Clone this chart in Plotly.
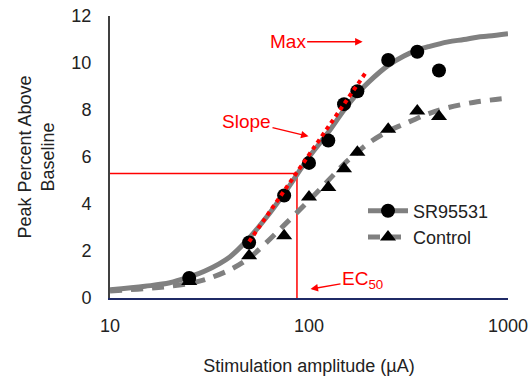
import plotly.graph_objects as go

# ---------------- data ----------------
stim_points = [25, 50, 75, 100, 125, 150, 175, 250, 350, 450]
sr_points = [0.85, 2.36, 4.36, 5.75, 6.7, 8.25, 8.8, 10.13, 10.48, 9.68]
ctrl_points = [0.7, 1.8, 2.65, 4.3, 4.7, 5.5, 6.2, 7.18, 7.96, 7.72]

fit_x_sr = [10, 15, 20, 25, 30, 40, 50, 60, 75, 87, 100, 125, 150, 175, 200, 250, 300, 350, 400, 500, 600, 700, 800, 1000]
fit_y_sr = [0.35, 0.5, 0.65, 0.9, 1.15, 1.75, 2.55, 3.35, 4.45, 5.25, 6.0, 7.05, 8.0, 8.7, 9.2, 9.9, 10.3, 10.55, 10.7, 10.9, 11.0, 11.1, 11.15, 11.25]

fit_x_ctrl = [10, 15, 20, 25, 30, 40, 50, 60, 75, 100, 125, 150, 175, 200, 250, 300, 400, 500, 700, 1000]
fit_y_ctrl = [0.3, 0.4, 0.5, 0.62, 0.78, 1.2, 1.7, 2.3, 3.1, 4.15, 5.0, 5.7, 6.2, 6.6, 7.1, 7.4, 7.85, 8.1, 8.35, 8.5]

slope_x = [50, 195]
slope_y = [2.4, 9.65]

ec50_x = 87
ec50_y = 5.3

y_ticks = [0, 2, 4, 6, 8, 10, 12]
x_ticks = [10, 100, 1000]
series_names = ["SR95531", "Control"]

FONT = "Arial, Liberation Sans, sans-serif"
GRAY = "#808080"
RED = "#ff0000"

fig = go.Figure()

# EC50 guide lines
fig.add_trace(go.Scatter(x=[10, ec50_x, ec50_x], y=[ec50_y, ec50_y, 0], mode="lines",
                         line=dict(color=RED, width=1.5), showlegend=False, hoverinfo="skip"))

# fitted curves
fig.add_trace(go.Scatter(x=fit_x_sr, y=fit_y_sr, mode="lines", line=dict(color=GRAY, width=5, shape="spline"),
                         showlegend=False))
fig.add_trace(go.Scatter(x=fit_x_ctrl, y=fit_y_ctrl, mode="lines",
                         line=dict(color=GRAY, width=5, dash="12px,9px", shape="spline"), showlegend=False))

# data points
fig.add_trace(go.Scatter(x=stim_points, y=sr_points, mode="markers",
                         marker=dict(symbol="circle", size=14, color="black"), showlegend=False))
fig.add_trace(go.Scatter(x=stim_points, y=ctrl_points, mode="markers",
                         marker=dict(symbol="triangle-up", size=14, color="black"), showlegend=False))

# slope dotted line
fig.add_trace(go.Scatter(x=slope_x, y=slope_y, mode="lines", line=dict(color=RED, width=4, dash="dot"),
                         showlegend=False))

# legend entries
fig.add_trace(go.Scatter(x=[None], y=[None], mode="lines+markers", name=series_names[0],
                         line=dict(color=GRAY, width=5), marker=dict(symbol="circle", size=14, color="black")))
fig.add_trace(go.Scatter(x=[None], y=[None], mode="lines+markers", name=series_names[1],
                         line=dict(color=GRAY, width=5, dash="12px,9px"),
                         marker=dict(symbol="triangle-up", size=14, color="black")))

ann_font = dict(family=FONT, size=19, color=RED)
fig.add_annotation(x=2.2695, y=10.9, xref="x", yref="y", text="Max", showarrow=True, ax=-75, ay=0,
                   arrowhead=2, arrowsize=1, arrowwidth=1.5, arrowcolor=RED, font=ann_font)
fig.add_annotation(x=1.9975, y=6.88, xref="x", yref="y", text="Slope", showarrow=True, ax=-62, ay=-15,
                   arrowhead=2, arrowsize=1, arrowwidth=1.5, arrowcolor=RED, font=ann_font)
fig.add_annotation(x=2.0076, y=0.38, xref="x", yref="y", text="EC<sub>50</sub>", showarrow=True, ax=52, ay=-9,
                   arrowhead=2, arrowsize=1, arrowwidth=1.5, arrowcolor=RED, font=ann_font)

fig.update_layout(
    width=531, height=376,
    margin=dict(l=110, r=23, t=16, b=78, autoexpand=False),
    paper_bgcolor="white", plot_bgcolor="white",
    font=dict(family=FONT, size=18, color="#222222"),
    legend=dict(x=(363 - 110) / 398, y=(298 - 224) / 282, xanchor="left", yanchor="middle",
                itemwidth=40, font=dict(size=18, color="#222222"), bgcolor="rgba(0,0,0,0)"),
)
fig.update_xaxes(type="log", range=[1, 3], tickvals=x_ticks, ticktext=[str(v) for v in x_ticks],
                 showgrid=False, zeroline=False, showline=True, linecolor="#1f2a66", linewidth=2,
                 ticks="", ticklabelstandoff=10, automargin=False,
                 title=dict(text="Stimulation amplitude (\u00b5A)", font=dict(size=18), standoff=29))
fig.update_yaxes(range=[0, 12], tickvals=y_ticks, showgrid=False, zeroline=False, showline=True,
                 linecolor="#404040", linewidth=2, ticks="", ticklabelstandoff=13, automargin=False,
                 title=dict(text="Peak Percent Above<br>Baseline", font=dict(size=18), standoff=12))

fig.write_html("out.html")
